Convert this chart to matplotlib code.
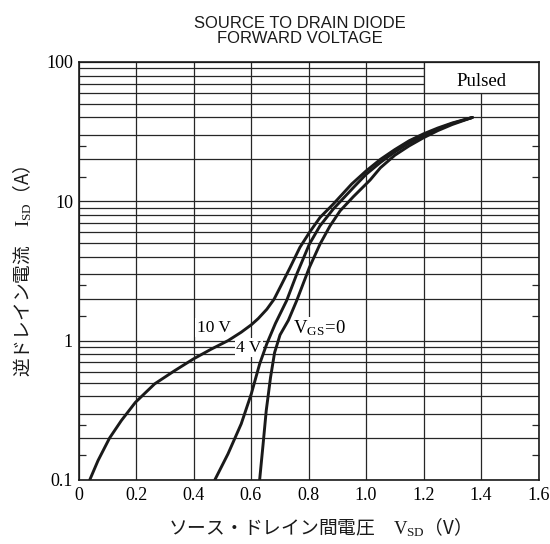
import numpy as np
import matplotlib
matplotlib.use("Agg")
import matplotlib.pyplot as plt
from matplotlib.ticker import FixedLocator, FuncFormatter
from matplotlib.patches import Rectangle

plt.rcParams['mathtext.fontset'] = 'custom'
plt.rcParams['mathtext.rm'] = 'Liberation Serif'
plt.rcParams['mathtext.it'] = 'Liberation Serif:italic'

# curves: V_SD (V) vs I_SD (A)
vsd_10v = [0.039, 0.068, 0.108, 0.149, 0.198, 0.265, 0.335, 0.40, 0.462, 0.52,
           0.566, 0.601, 0.625, 0.655, 0.68, 0.705, 0.736, 0.77, 0.803, 0.84, 0.886,
           0.95, 1.0, 1.05, 1.1, 1.15, 1.2, 1.25, 1.3, 1.37]
isd_10v = [0.1, 0.138, 0.2, 0.267, 0.361, 0.49, 0.61, 0.74, 0.87, 1.0,
           1.15, 1.3, 1.44, 1.68, 1.98, 2.5, 3.35, 4.67, 5.97, 7.66, 9.55,
           13.3, 16.5, 20.0, 23.5, 27.2, 30.5, 33.6, 36.5, 40]

vsd_4v = [0.474, 0.52, 0.566, 0.601, 0.63, 0.655, 0.685, 0.724, 0.759,
          0.803, 0.84, 0.886, 0.96, 1.0, 1.05, 1.1, 1.15, 1.2, 1.25, 1.3, 1.37]
isd_4v = [0.1, 0.154, 0.253, 0.415, 0.68, 0.95, 1.33, 1.94, 3.0,
          4.93, 6.67, 8.8, 12.8, 15.6, 19.0, 22.6, 26.2, 29.6, 33.0, 36.2, 40]

vsd_0v = [0.63, 0.642, 0.653, 0.668, 0.682, 0.701, 0.73, 0.759, 0.803,
          0.84, 0.875, 0.91, 0.956, 1.014, 1.05, 1.1, 1.15, 1.2, 1.25, 1.3, 1.37]
isd_0v = [0.1, 0.18, 0.315, 0.546, 0.82, 1.1, 1.4, 1.94, 3.35,
          4.93, 6.67, 8.55, 10.8, 14.2, 17.4, 21.4, 25.0, 28.6, 32.2, 35.6, 40]

x_ticks = [0, 0.2, 0.4, 0.6, 0.8, 1.0, 1.2, 1.4, 1.6]
x_labels = ["0", "0.2", "0.4", "0.6", "0.8", "1.0", "1.2", "1.4", "1.6"]
decades = [0.1, 1, 10, 100]
decade_labels = {0.1: "0.1", 1: "1", 10: "10", 100: "100"}

W, H = 550, 544
fig = plt.figure(figsize=(W / 100, H / 100), dpi=100)
ax = fig.add_axes([78.5 / W, 1 - 480 / H, 460 / W, 418 / H])
ax.set_axisbelow(True)

ax.set_yscale('log')
ax.set_xlim(0, 1.6)
ax.set_ylim(0.1, 100)

# grid on every 1..9 multiple, labels only on decades
grid_vals = [m * d for d in decades[:-1] for m in range(1, 10)] + [100]
ax.yaxis.set_major_locator(FixedLocator(grid_vals))
ax.yaxis.set_major_formatter(FuncFormatter(
    lambda v, p: next((decade_labels[d] for d in decades if abs(v - d) < 1e-9 * d), "")))
ax.yaxis.set_minor_locator(FixedLocator([m * d for d in decades[:-1] for m in (1.5, 2.5)]))
ax.yaxis.set_minor_formatter(FuncFormatter(lambda v, p: ""))

ax.set_xticks(x_ticks)
ax.set_xticklabels(x_labels)

ax.grid(True, which='major', color='#262626', lw=0.9)
ax.tick_params(which='major', length=0)
ax.tick_params(axis='x', pad=5)
ax.tick_params(axis='y', pad=4)
ax.tick_params(axis='y', which='minor', direction='in', left=True, right=True,
               length=5, width=0.9, color='#262626')
for lab in ax.get_xticklabels() + ax.get_yticklabels():
    lab.set_fontfamily('Liberation Serif')
    lab.set_fontsize(13)

for s in ax.spines.values():
    s.set_linewidth(1.2)
    s.set_color('#1a1a1a')

# "Pulsed" box clears the grid in the top-right corner
ax.add_patch(Rectangle((1.2, 60), 0.4, 40, facecolor='white', edgecolor='#262626',
                       lw=0.9, zorder=1))
ax.text(1.4, 72, "Pulsed", ha='center', va='center', fontsize=13.5,
        family='Liberation Serif', zorder=3)

for vx, iy in [(vsd_10v, isd_10v), (vsd_4v, isd_4v), (vsd_0v, isd_0v)]:
    ax.plot(vx, iy, color='#1a1a1a', lw=2.1, solid_capstyle='round',
            solid_joinstyle='round', zorder=2)

box = dict(facecolor='white', edgecolor='none', pad=1)
ax.text(0.411, 1.24, "10 V", ha='left', va='center', fontsize=12.5,
        family='Liberation Serif', bbox=box, zorder=1.5)
ax.text(0.548, 0.89, "4 V", ha='left', va='center', fontsize=12.5,
        family='Liberation Serif', bbox=box, zorder=1.5)
ax.text(0.746, 1.22, r"$\mathrm{V_{GS}\!=\!0}$", ha='left', va='center', fontsize=13.5,
        bbox=box, zorder=1.5)

fig.text(300 / W, 1 - 16 / H, "SOURCE TO DRAIN DIODE\nFORWARD VOLTAGE",
         ha='center', va='top', fontsize=12, family='Liberation Sans',
         linespacing=1.0, color='#1a1a1a')

fig.text(315 / W, 1 - 527 / H, "ソース・ドレイン間電圧　$\\mathrm{V_{SD}}$（V）",
         ha='center', va='center', fontsize=13.5, family='Noto Sans CJK JP',
         color='#1a1a1a')
fig.text(22.5 / W, 1 - 271 / H, "逆ドレイン電流　$\\mathrm{I_{SD}}$（A）",
         ha='center', va='center', rotation=90, fontsize=13.5,
         family='Noto Sans CJK JP', color='#1a1a1a')

fig.savefig("out.png", dpi=100, facecolor='white')
